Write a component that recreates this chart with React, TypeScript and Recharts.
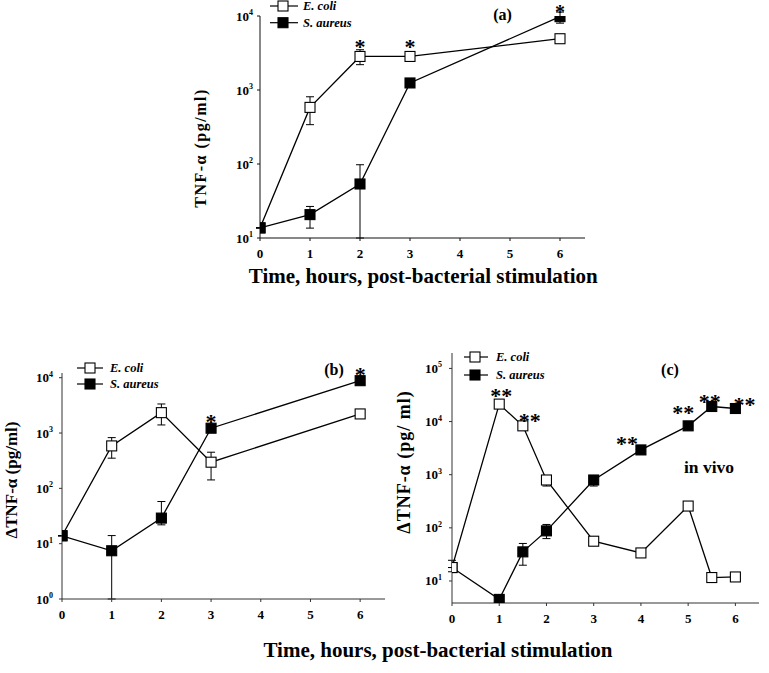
import React from 'react';
import { LineChart, Line, XAxis, YAxis, ErrorBar, LabelList } from 'recharts';

const FONT = '"Liberation Serif", "Times New Roman", Times, serif';

const SERIES_NAMES = ['E. coli', 'S. aureus'];
const X_TICKS = [0, 1, 2, 3, 4, 5, 6];
const X_TITLE = 'Time, hours, post-bacterial stimulation';

// Panel (a)
const timesA = [0, 1, 2, 3, 6];
const ecoliA = [13.7, 582, 2840, 2840, 4930];
const ecoliErrA = [[0, 0], [242, 228], [640, 660], [0, 0], [300, 300]];
const saureusA = [13.7, 20.7, 53.7, 1245, 9800];
const saureusErrA = [[0, 0], [7.1, 6], [43.7, 44], [0, 0], [1800, 1500]];
const ecoliSigA = ['', '', '*', '*', ''];
const saureusSigA = ['', '', '', '', '*'];
const yTicksA = [10, 100, 1000, 10000];

// Panel (b)
const timesB = [0, 1, 2, 3, 6];
const ecoliB = [13.9, 585, 2335, 297, 2213];
const ecoliErrB = [[0, 0], [234, 241], [935, 1015], [155, 153], [0, 0]];
const saureusB = [13.9, 7.45, 29, 1222, 8830];
const saureusErrB = [[0, 0], [6.45, 6.55], [7.1, 28.8], [0, 0], [800, 800]];
const ecoliSigB = ['', '', '', '', ''];
const saureusSigB = ['', '', '', '*', '*'];
const yTicksB = [1, 10, 100, 1000, 10000];

// Panel (c)
const timesC = [0, 1, 1.5, 2, 3, 4, 5, 5.5, 6];
const ecoliC = [17.9, 21300, 8300, 795, 56, 33.7, 257, 11.6, 11.9];
const ecoliErrC = [[3, 6.6], [0, 0], [0, 0], [183, 150], [0, 0], [0, 0], [0, 0], [0, 0], [0, 0]];
const saureusC = [17.9, 4.5, 35.3, 87.7, 795, 2925, 8300, 19200, 17600];
const saureusErrC = [[0, 0], [0, 0], [15.5, 15.5], [25, 28], [183, 150], [0, 0], [1000, 1000], [2500, 2500], [3200, 2900]];
const ecoliSigC = ['', '**', '**', '', '', '', '', '', ''];
const saureusSigC = ['', '', '', '', '', '**', '**', '**', '**'];
const yTicksC = [10, 100, 1000, 10000, 100000];

function buildRows(times: number[], ec: number[], ecErr: number[][], sa: number[], saErr: number[][], ecSig: string[], saSig: string[]) {
  return times.map((t, i) => ({
    t,
    ec: ec[i],
    ecErr: ecErr[i],
    sa: sa[i],
    saErr: saErr[i],
    ecSig: ecSig[i],
    saSig: saSig[i],
  }));
}

const rowsA = buildRows(timesA, ecoliA, ecoliErrA, saureusA, saureusErrA, ecoliSigA, saureusSigA);
const rowsB = buildRows(timesB, ecoliB, ecoliErrB, saureusB, saureusErrB, ecoliSigB, saureusSigB);
const rowsC = buildRows(timesC, ecoliC, ecoliErrC, saureusC, saureusErrC, ecoliSigC, saureusSigC);

const squareDot = (fill: string) => (p: any) => {
  if (p.cx == null || p.cy == null || isNaN(p.cx) || isNaN(p.cy)) return <g key={`n-${p.index}`} />;
  return (
    <rect key={`d-${p.index}`} x={p.cx - 5} y={p.cy - 5} width={10} height={10} fill={fill} stroke="#000" strokeWidth={1.1} />
  );
};

const sigLabel = (offsets: Record<number, number[]>, def: number[]) => (p: any) => {
  const v = p.value;
  if (!v) return null;
  const x = p.x ?? p.viewBox?.x;
  const y = p.y ?? p.viewBox?.y;
  if (x == null || y == null) return null;
  const off = offsets[p.index] ?? def;
  const fs = off[2] ?? 22;
  return (
    <text key={`s-${p.index}`} x={x + off[0]} y={y + off[1] + 0.48 * fs} textAnchor="middle" fontFamily={FONT} fontWeight="bold" fontSize={fs} fill="#000">
      {v}
    </text>
  );
};

const XTick = (p: any) => (
  <text x={p.x} y={p.y + 10} textAnchor="middle" dominantBaseline="central" fontFamily={FONT} fontWeight="bold" fontSize={13} fill="#000">
    {p.payload.value}
  </text>
);

const YTick = (p: any) => {
  const exp = Math.round(Math.log10(p.payload.value));
  return (
    <text x={p.x} y={p.y} textAnchor="end" dominantBaseline="central" fontFamily={FONT} fontWeight="bold" fontSize={13} fill="#000">
      10<tspan dy={-4} fontSize={8}>{exp}</tspan>
    </text>
  );
};

type PanelProps = {
  rows: any[];
  width: number;
  height: number;
  left: number;
  top: number;
  margin: any;
  domain: number[];
  yTicks: number[];
  yTickMargin: number;
  axisColor: string;
  ecOffsets: Record<number, number[]>;
  saOffsets: Record<number, number[]>;
  defOff: number[];
  ecoliOnTop: boolean;
};

function Panel(props: PanelProps) {
  const ecLine = (
    <Line
      key="ec"
      type="linear"
      dataKey="ec"
      stroke="#000"
      strokeWidth={1.3}
      dot={squareDot('#fff')}
      activeDot={false}
      isAnimationActive={false}
    >
      <ErrorBar dataKey="ecErr" width={4} stroke="#000" strokeWidth={1} isAnimationActive={false} />
      <LabelList dataKey="ecSig" content={sigLabel(props.ecOffsets, props.defOff)} />
    </Line>
  );
  const saLine = (
    <Line
      key="sa"
      type="linear"
      dataKey="sa"
      stroke="#000"
      strokeWidth={1.3}
      dot={squareDot('#000')}
      activeDot={false}
      isAnimationActive={false}
    >
      <ErrorBar dataKey="saErr" width={4} stroke="#000" strokeWidth={1} isAnimationActive={false} />
      <LabelList dataKey="saSig" content={sigLabel(props.saOffsets, props.defOff)} />
    </Line>
  );
  return (
    <div style={{ position: 'absolute', left: props.left, top: props.top }}>
      <LineChart width={props.width} height={props.height} data={props.rows} margin={props.margin}>
        <XAxis
          type="number"
          dataKey="t"
          domain={[0, 6.5]}
          ticks={X_TICKS}
          allowDataOverflow
          height={30}
          tickSize={3}
          tickMargin={2}
          stroke={props.axisColor}
          tick={XTick}
        />
        <YAxis
          type="number"
          scale="log"
          domain={props.domain}
          allowDataOverflow
          ticks={props.yTicks}
          width={40}
          tickSize={3}
          tickMargin={props.yTickMargin}
          stroke={props.axisColor}
          tick={YTick}
        />
        {props.ecoliOnTop ? [saLine, ecLine] : [ecLine, saLine]}
      </LineChart>
    </div>
  );
}

function LegendBlock({ x1, x2, sq, tx, ys }: { x1: number; x2: number; sq: number; tx: number; ys: number[] }) {
  return (
    <g>
      {SERIES_NAMES.map((name, i) => (
        <g key={name}>
          <line x1={x1} x2={x2} y1={ys[i]} y2={ys[i]} stroke="#000" strokeWidth={1.2} />
          <rect x={sq - 5} y={ys[i] - 5} width={10} height={10} fill={i === 0 ? '#fff' : '#000'} stroke="#000" strokeWidth={1.1} />
          <text x={tx} y={ys[i] + 4.3} fontFamily={FONT} fontStyle="italic" fontWeight="bold" fontSize={12.5} fill="#000">
            {name}
          </text>
        </g>
      ))}
    </g>
  );
}

export default function App() {
  return (
    <div style={{ position: 'absolute', left: 0, top: 0, width: 769, height: 673, background: '#fff', overflow: 'hidden' }}>
      <Panel
        rows={rowsA}
        width={450}
        height={270}
        left={150}
        top={0}
        margin={{ top: 16, right: 15, bottom: 2, left: 70 }}
        domain={[10, 10000]}
        yTicks={yTicksA}
        yTickMargin={4}
        axisColor="#111"
        ecOffsets={{}}
        saOffsets={{ 4: [0, -7, 20] }}
        defOff={[0, -13.5]}
        ecoliOnTop={false}
      />
      <Panel
        rows={rowsB}
        width={400}
        height={290}
        left={0}
        top={340}
        margin={{ top: 33, right: 15, bottom: 1, left: 22 }}
        domain={[1, 12160]}
        yTicks={yTicksB}
        yTickMargin={6}
        axisColor="#333"
        ecOffsets={{}}
        saOffsets={{}}
        defOff={[0, -9.5]}
        ecoliOnTop={false}
      />
      <Panel
        rows={rowsC}
        width={369}
        height={293}
        left={400}
        top={340}
        margin={{ top: 13, right: 10, bottom: 0, left: 12 }}
        domain={[3.85, 195000]}
        yTicks={yTicksC}
        yTickMargin={7}
        axisColor="#333"
        ecOffsets={{ 1: [2, -12], 2: [7, -8] }}
        saOffsets={{ 5: [-14, -9], 6: [-5, -16], 7: [-2, -8], 8: [9, -7] }}
        defOff={[0, -12]}
        ecoliOnTop={true}
      />
      <svg width={769} height={673} style={{ position: 'absolute', left: 0, top: 0, pointerEvents: 'none' }}>
        <LegendBlock x1={270} x2={298} sq={283} tx={303} ys={[6, 22.7]} />
        <LegendBlock x1={77} x2={103} sq={90} tx={110} ys={[368, 384]} />
        <LegendBlock x1={464} x2={488} sq={475} tx={496} ys={[357, 375]} />

        <text x={502.5} y={20} textAnchor="middle" fontFamily={FONT} fontWeight="bold" fontSize={16}>(a)</text>
        <text x={334} y={375} textAnchor="middle" fontFamily={FONT} fontWeight="bold" fontSize={16}>(b)</text>
        <text x={670} y={375} textAnchor="middle" fontFamily={FONT} fontWeight="bold" fontSize={16}>(c)</text>
        <text x={709} y={473} textAnchor="middle" fontFamily={FONT} fontWeight="bold" fontSize={17.5}>in vivo</text>

        <text x={423.3} y={283} textAnchor="middle" fontFamily={FONT} fontWeight="bold" fontSize={21}>{X_TITLE}</text>
        <text x={438} y={657} textAnchor="middle" fontFamily={FONT} fontWeight="bold" fontSize={21}>{X_TITLE}</text>

        <text transform="translate(206,148) rotate(-90)" textAnchor="middle" fontFamily={FONT} fontWeight="bold" fontSize={16} letterSpacing={1.5}>TNF-α (pg/ml)</text>
        <text transform="translate(16.6,480) rotate(-90)" textAnchor="middle" fontFamily={FONT} fontWeight="bold" fontSize={17}>ΔTNF-α (pg/ml)</text>
        <text transform="translate(409.5,462) rotate(-90)" textAnchor="middle" fontFamily={FONT} fontWeight="bold" fontSize={18} letterSpacing={1}>ΔTNF-α (pg/ ml)</text>
      </svg>
    </div>
  );
}
